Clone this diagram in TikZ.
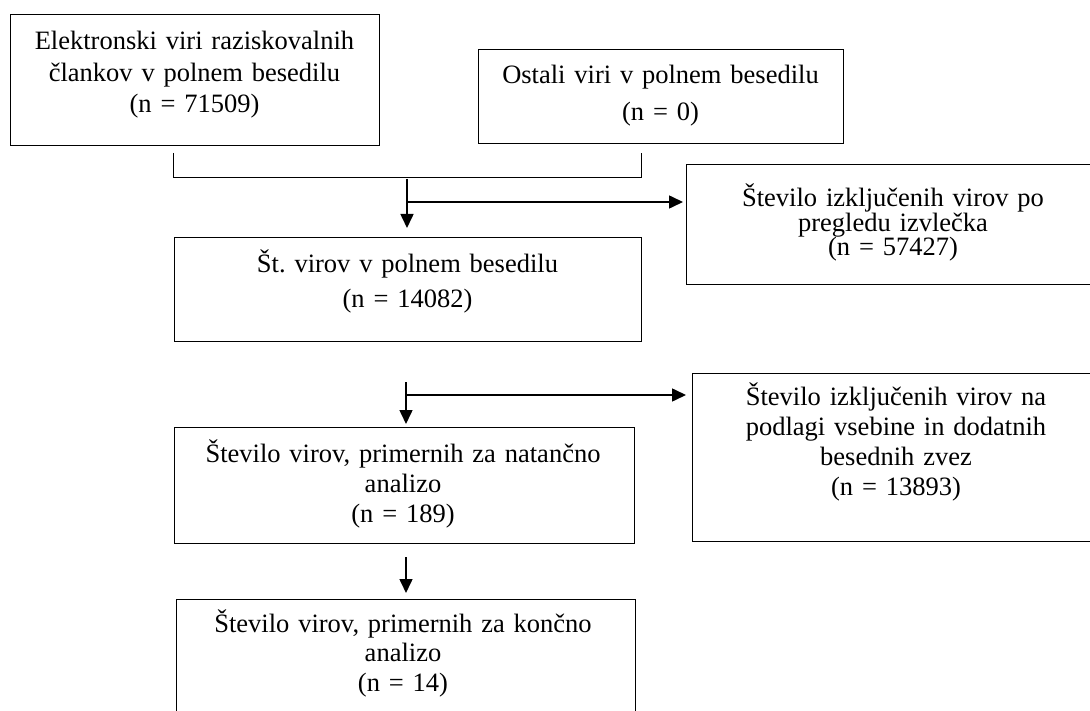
\documentclass[tikz,border=0pt]{standalone}
\usepackage{fontspec}
\setmainfont{Liberation Serif}[WordSpace=0.45]
\usetikzlibrary{arrows.meta}
\newcommand{\fs}[1]{\fontsize{26.5}{#1}\selectfont\frenchspacing}
\begin{document}
\begin{tikzpicture}[x=1pt,y=-1pt,
  box/.style={draw, line width=0.9pt, inner sep=0pt, anchor=north west},
  txt/.style={text width=440pt, align=center, inner sep=0pt, anchor=base},
  conn/.style={line width=1.6pt},
  thin/.style={line width=0.9pt},
  arr/.style={conn, -{Triangle[length=14pt,width=13pt]}},
]
\useasboundingbox (0,0) rectangle (1090,711);
\fill[white] (0,0) rectangle (1090,711);
\clip (0,0) rectangle (1090,711);

% boxes
\node[box, minimum width=369pt, minimum height=131pt] (b1) at (10,14) {};
\node[box, minimum width=365pt, minimum height=94pt]  (b2) at (478,49) {};
\node[box, minimum width=414pt, minimum height=120pt] (r1) at (686,164) {};
\node[box, minimum width=467pt, minimum height=104pt] (b3) at (174,237) {};
\node[box, minimum width=408pt, minimum height=168pt] (r2) at (692,373) {};
\node[box, minimum width=460pt, minimum height=116pt] (b4) at (174,427) {};
\node[box, minimum width=459pt, minimum height=150pt] (b5) at (176,599) {};

% texts
\node[txt, font=\fs{31.5}] (t1) at (194.5,50)
  {Elektronski viri raziskovalnih\\ člankov v polnem besedilu\\ (n = 71509)};
\node[txt, font=\fs{37}] (t2) at (660.5,84)
  {Ostali viri v polnem besedilu\\ (n = 0)};
\node[txt, font=\fs{24.5}] (tr1) at (893,207)
  {Število izključenih virov po\\ pregledu izvlečka\\ (n = 57427)};
\node[txt, font=\fs{35}] (t3) at (407.5,273)
  {Št. virov v polnem besedilu\\ (n = 14082)};
\node[txt, font=\fs{30}] (tr2) at (896,405)
  {Število izključenih virov na\\ podlagi vsebine in dodatnih\\ besednih zvez\\ (n = 13893)};
\node[txt, font=\fs{30}] (t4) at (403,462)
  {Število virov, primernih za natančno\\ analizo\\ (n = 189)};
\node[txt, font=\fs{29.5}] (t5) at (403,632)
  {Število virov, primernih za končno\\ analizo\\ (n = 14)};

% bracket joining the two sources
\coordinate (bl) at (173,153);
\coordinate (br) at (641,153);
\draw[thin] (bl) -- ++(0,24) -| (br);

% connectors
\coordinate (a1) at (407,179);
\coordinate (h1) at (407,202);
\draw[arr, shorten >=9pt] (a1) -- (a1 |- b3.north);
\draw[arr, shorten >=3pt] (h1) -- (h1 -| r1.west);

\coordinate (a2) at (406,382);
\coordinate (h2) at (406,395);
\draw[arr, shorten >=3pt] (a2) -- (a2 |- b4.north);
\draw[arr, shorten >=6pt] (h2) -- (h2 -| r2.west);

\coordinate (a3) at (406,557);
\draw[arr, shorten >=6pt] (a3) -- (a3 |- b5.north);
\end{tikzpicture}
\end{document}
